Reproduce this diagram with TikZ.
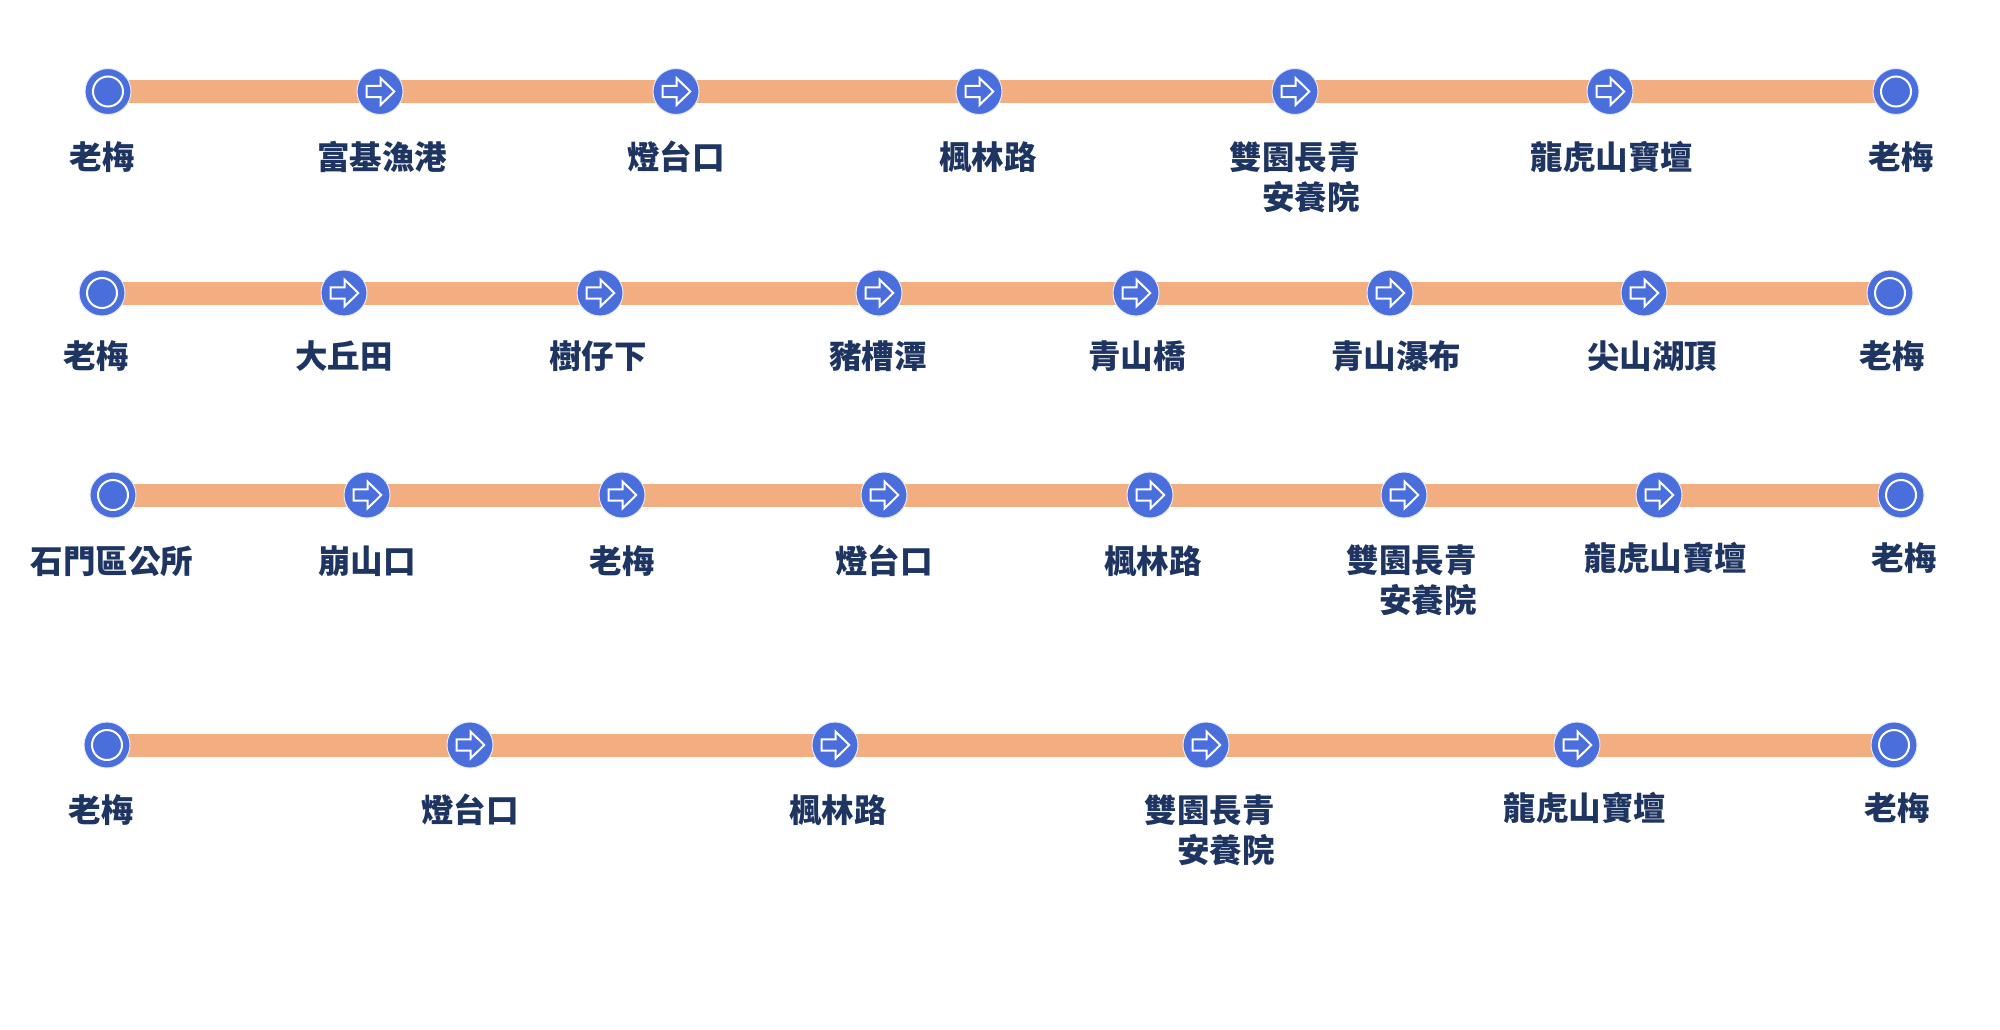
\documentclass[tikz,border=0pt]{standalone}
\usepackage{fontspec}
\newfontfamily\cjk{Noto Sans CJK TC}
\usetikzlibrary{backgrounds}
\definecolor{stnblue}{HTML}{4A6FDC}
\definecolor{barorange}{HTML}{F2AE80}
\definecolor{txtnavy}{HTML}{1E3461}
\tikzset{
  stn/.style={circle, fill=stnblue, draw=white!85!stnblue, line width=1pt,
    minimum size=46pt, inner sep=0pt},
  endstn/.style={stn, path picture={
    \draw[white, line width=2pt] (path picture bounding box.center) circle (15pt);}},
  midstn/.style={stn, path picture={
    \draw[white, line width=2pt, line join=miter]
      (path picture bounding box.center) ++(-13.3pt,-5.7pt) -- ++(14pt,0pt)
      -- ++(0pt,-7.6pt) -- ++(13.6pt,13.3pt) -- ++(-13.6pt,13.3pt)
      -- ++(0pt,-7.6pt) -- ++(-14pt,0pt) -- cycle;}},
  bar/.style={draw=barorange, line width=23pt},
  lbl/.style={text=txtnavy, font=\cjk\bfseries\fontsize{32.5}{40}\selectfont, inner sep=0pt},
  lbl2/.style={lbl, align=right, anchor=east}
}
\begin{document}
\begin{tikzpicture}[x=1pt,y=-1pt]
\useasboundingbox (0,0) rectangle (2000,1030);
% Row 1
\node[endstn] (a1) at (108,91.5) {};
\node[midstn] (a2) at (380,91.5) {};
\node[midstn] (a3) at (676,91.5) {};
\node[midstn] (a4) at (979,91.5) {};
\node[midstn] (a5) at (1295,91.5) {};
\node[midstn] (a6) at (1610,91.5) {};
\node[endstn] (a7) at (1896,91.5) {};
\node[lbl] (la1) at (102,157) {老梅};
\node[lbl] (la2) at (382,157) {富基漁港};
\node[lbl] (la3) at (676,157) {燈台口};
\node[lbl] (la4) at (988,157) {楓林路};
\node[lbl2] (la5) at (1360,177) {雙園長青\\安養院};
\node[lbl] (la6) at (1612,157) {龍虎山寶壇};
\node[lbl] (la7) at (1901,157) {老梅};
% Row 2
\node[endstn] (b1) at (102,293) {};
\node[midstn] (b2) at (344,293) {};
\node[midstn] (b3) at (600,293) {};
\node[midstn] (b4) at (879,293) {};
\node[midstn] (b5) at (1136,293) {};
\node[midstn] (b6) at (1390,293) {};
\node[midstn] (b7) at (1644,293) {};
\node[endstn] (b8) at (1890,293) {};
\node[lbl] (lb1) at (96,356) {老梅};
\node[lbl] (lb2) at (344,356) {大丘田};
\node[lbl] (lb3) at (598,356) {樹仔下};
\node[lbl] (lb4) at (878,356) {豬槽潭};
\node[lbl] (lb5) at (1137,356) {青山橋};
\node[lbl] (lb6) at (1396,356) {青山瀑布};
\node[lbl] (lb7) at (1652,356) {尖山湖頂};
\node[lbl] (lb8) at (1892,356) {老梅};
% Row 3
\node[endstn] (c1) at (113,495) {};
\node[midstn] (c2) at (367,495) {};
\node[midstn] (c3) at (622,495) {};
\node[midstn] (c4) at (884,495) {};
\node[midstn] (c5) at (1150,495) {};
\node[midstn] (c6) at (1404,495) {};
\node[midstn] (c7) at (1659,495) {};
\node[endstn] (c8) at (1901,495) {};
\node[lbl] (lc1) at (112,561) {石門區公所};
\node[lbl] (lc2) at (367,561) {崩山口};
\node[lbl] (lc3) at (622,561) {老梅};
\node[lbl] (lc4) at (884,561) {燈台口};
\node[lbl] (lc5) at (1153,561) {楓林路};
\node[lbl2] (lc6) at (1477,580) {雙園長青\\安養院};
\node[lbl] (lc7) at (1666,558) {龍虎山寶壇};
\node[lbl] (lc8) at (1904,558) {老梅};
% Row 4
\node[endstn] (d1) at (107,745) {};
\node[midstn] (d2) at (470,745) {};
\node[midstn] (d3) at (835,745) {};
\node[midstn] (d4) at (1206,745) {};
\node[midstn] (d5) at (1577,745) {};
\node[endstn] (d6) at (1894,745) {};
\node[lbl] (ld1) at (101,810) {老梅};
\node[lbl] (ld2) at (470,810) {燈台口};
\node[lbl] (ld3) at (838,810) {楓林路};
\node[lbl2] (ld4) at (1275,830) {雙園長青\\安養院};
\node[lbl] (ld5) at (1585,808) {龍虎山寶壇};
\node[lbl] (ld6) at (1897,808) {老梅};
% Bars
\begin{scope}[on background layer]
\foreach \p/\q in {a1/a2,a2/a3,a3/a4,a4/a5,a5/a6,a6/a7,
  b1/b2,b2/b3,b3/b4,b4/b5,b5/b6,b6/b7,b7/b8,
  c1/c2,c2/c3,c3/c4,c4/c5,c5/c6,c6/c7,c7/c8,
  d1/d2,d2/d3,d3/d4,d4/d5,d5/d6}
  \draw[bar] (\p.center) -- (\q.center);
\end{scope}
\end{tikzpicture}
\end{document}
